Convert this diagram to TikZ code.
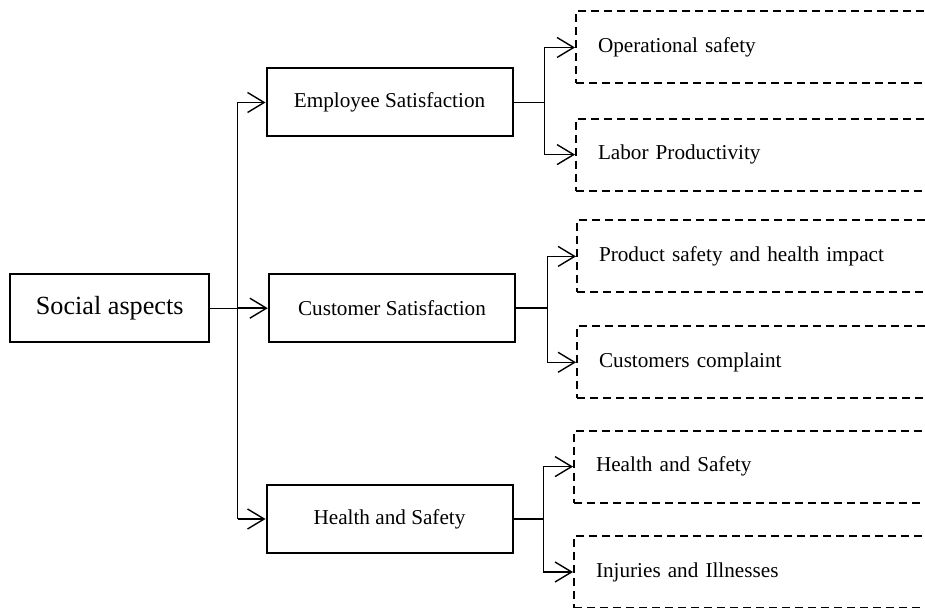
\documentclass[tikz,border=0pt]{standalone}
\usepackage{fontspec}
\setmainfont{Liberation Serif}
\usetikzlibrary{arrows.meta}

\begin{document}
\begin{tikzpicture}[x=0.5pt, y=-0.5pt, line width=0.7pt,
    rootbox/.style={draw, line width=1pt, minimum width=99.5pt, minimum height=34pt, inner sep=0pt, font=\fontsize{13.1}{15}\selectfont},
    groupbox/.style={draw, line width=1pt, minimum width=123pt, minimum height=34pt, inner sep=0pt, font=\fontsize{10.6}{12}\selectfont},
    itembox/.style={draw, dash pattern=on 4pt off 2.5pt, line width=1pt, anchor=west, text width=190pt, align=left, inner xsep=11pt, minimum height=36pt, font=\fontsize{10.6}{12}\selectfont},
    arr/.style={-{Straight Barb[length=8.3pt, width=10pt]}}]

% page frame, the item boxes run past the right edge
\useasboundingbox (0,0) rectangle (925,608);
\clip (0,0) rectangle (925,608);

% draw root and the three groups
\node[rootbox] (social) at (109.7,308.3) {Social aspects};
\node[groupbox] (emp) at (389.5,102.5) {Employee Satisfaction};
\node[groupbox, minimum width=123.2pt] (cust) at (392,308.2) {Customer Satisfaction};
\node[groupbox] (hs) at (389.5,519) {Health and Safety};

% draw dashed item boxes
\node[itembox] (opsafe) at (575,47.5) {Operational safety};
\node[itembox] (labor) at (575,154.6) {Labor Productivity};
\node[itembox] (prod) at (576,256.4) {Product safety and health impact};
\node[itembox] (compl) at (576,362.3) {Customers complaint};
\node[itembox] (hsitem) at (573,466.6) {Health and Safety};
\node[itembox] (injur) at (573,572) {Injuries and Illnesses};

% draw trunk from root to groups
\coordinate (trunk) at (237.7,308.3);
\draw (social.east) -- (trunk);
\draw (trunk |- emp.west) -- (trunk |- hs.west);
\draw[arr] (trunk |- emp.west) -- (emp.west);
\draw[arr] (trunk |- cust.west) -- (cust.west);
\draw[arr] (trunk |- hs.west) -- (hs.west);

% draw branches from groups to items
\draw[arr] (emp.east) -- ++(31,0) |- (opsafe.west);
\draw[arr] (emp.east) -- ++(31,0) |- (labor.west);
\draw[arr] (cust.east) -- ++(31,0) |- (prod.west);
\draw[arr] (cust.east) -- ++(31,0) |- (compl.west);
\draw[arr] (hs.east) -- ++(30,0) |- (hsitem.west);
\draw[arr] (hs.east) -- ++(30,0) |- (injur.west);

\end{tikzpicture}
\end{document}
